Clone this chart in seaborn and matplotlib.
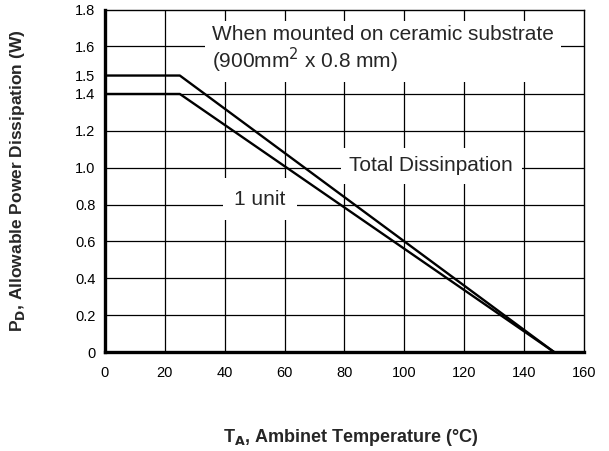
import matplotlib
matplotlib.use("Agg")
import matplotlib.pyplot as plt
import numpy as np
import pandas as pd
import seaborn as sns

# derating curves
temp_c = [0, 25, 150]
total_w = [1.5, 1.5, 0.0]
one_unit_w = [1.4, 1.4, 0.0]

x_ticks = [0, 20, 40, 60, 80, 100, 120, 140, 160]
y_ticks = [0, 0.2, 0.4, 0.6, 0.8, 1.0, 1.2, 1.4, 1.5, 1.6, 1.8]
y_ticklabels = ["0", "0.2", "0.4", "0.6", "0.8", "1.0", "1.2", "1.4", "1.5", "1.6", "1.8"]
x_gridlines = [20, 40, 60, 80, 100, 120, 140]
y_gridlines = [0.2, 0.4, 0.6, 0.8, 1.0, 1.2, 1.4, 1.6]

df = pd.concat([
    pd.DataFrame({"temp": temp_c, "pd": total_w, "curve": "Total"}),
    pd.DataFrame({"temp": temp_c, "pd": one_unit_w, "curve": "1 unit"}),
])

sns.set_style("white")
plt.rcParams["font.family"] = ["Liberation Sans", "DejaVu Sans"]

fig = plt.figure(figsize=(6.09, 4.51), dpi=100)
ax = fig.add_axes([0.1724, 0.2195, 0.7865, 0.7585])

# the printed chart stretches the band above 1.5 W a little
y_knots = [0, 1.5, 1.6, 1.8]
y_drawn = [0, 1.5, 1.66, 1.856]


def fwd(v):
    return np.interp(v, y_knots, y_drawn)


def inv(v):
    return np.interp(v, y_drawn, y_knots)


ax.set_yscale("function", functions=(fwd, inv))

for xv in x_gridlines:
    ax.axvline(xv, color="black", lw=0.9, zorder=1)
for yv in y_gridlines:
    ax.axhline(yv, color="black", lw=0.9, zorder=1)

sns.lineplot(data=df, x="temp", y="pd", units="curve", estimator=None,
             color="black", lw=1.7, legend=False, ax=ax, zorder=3)

ax.set_xlim(0, 160)
ax.set_ylim(0, 1.8)
ax.set_xticks(x_ticks)
ax.set_yticks(y_ticks)
ax.set_yticklabels(y_ticklabels)
ax.minorticks_off()
ax.tick_params(axis="both", length=0, labelsize=10.5, colors="black")
ax.tick_params(axis="x", pad=10)
ax.tick_params(axis="y", pad=7)

for side in ["top", "right"]:
    ax.spines[side].set_linewidth(1.0)
    ax.spines[side].set_color("black")
for side in ["left", "bottom"]:
    ax.spines[side].set_linewidth(2.4)
    ax.spines[side].set_color("black")

ax.text(0.223, 0.883, "When mounted on ceramic substrate\n(900mm$^2$ x 0.8 mm)",
        transform=ax.transAxes, fontsize=15, ha="left", va="center",
        linespacing=1.1, bbox=dict(facecolor="white", edgecolor="none", pad=5), zorder=4)
ax.text(109, 1.01, "Total Dissinpation", fontsize=15, ha="center", va="center",
        bbox=dict(facecolor="white", edgecolor="none", pad=6), zorder=4)
ax.text(51.8, 0.83, "1 unit", fontsize=15, ha="center", va="center",
        bbox=dict(facecolor="white", edgecolor="none", pad=8), zorder=4)

ax.set_xlabel("T$_\\mathbf{A}$, Ambinet Temperature (°C)", fontsize=13, fontweight="bold")
ax.set_ylabel("P$_\\mathbf{D}$, Allowable Power Dissipation (W)", fontsize=12.5, fontweight="bold")
ax.xaxis.set_label_coords(0.514, -0.219)
ax.yaxis.set_label_coords(-0.163, 0.5)

fig.savefig("out.png", dpi=100)
